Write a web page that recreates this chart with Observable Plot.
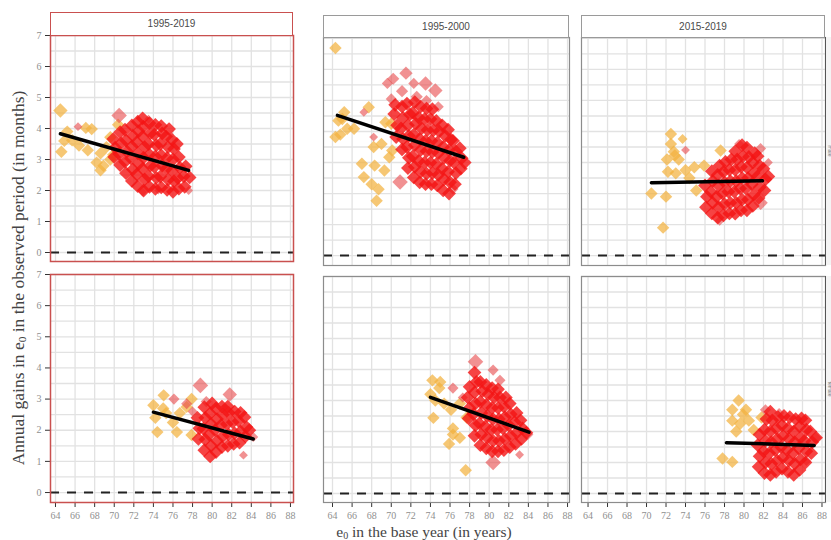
<!DOCTYPE html>
<html><head><meta charset="utf-8">
<script src="https://cdn.jsdelivr.net/npm/d3@7"></script>
<script src="https://cdn.jsdelivr.net/npm/@observablehq/plot@0.6"></script>
<style>
html,body{margin:0;padding:0;background:#fff;}
#wrap{position:relative;width:831px;height:540px;overflow:hidden;background:#fff;}
.pan{position:absolute;}
.pan svg{overflow:visible;display:block;}
.pan [aria-label^="x-axis"] text,.pan [aria-label^="y-axis"] text{fill:#8f8f8f;}
.strip{position:absolute;box-sizing:border-box;background:#fff;font-family:"Liberation Sans",Arial,sans-serif;font-size:10px;color:#4a4a4a;text-align:center;}
.rstrip{position:absolute;box-sizing:border-box;border-left:1.5px solid #555;background:#f4f4f4;width:6px;overflow:visible;}
.rstrip span{position:absolute;left:3px;top:50%;transform:translate(-50%,-50%) rotate(90deg);font-family:"Liberation Sans",Arial,sans-serif;font-size:5px;line-height:5px;color:#777;white-space:nowrap;}
.ytitle{position:absolute;left:18px;top:278px;transform:translate(-50%,-50%) rotate(-90deg);font-family:"Liberation Serif",serif;font-size:17.5px;color:#444;white-space:nowrap;}
.xtitle{position:absolute;left:424px;top:532px;transform:translate(-50%,-50%);font-family:"Liberation Serif",serif;font-size:15.5px;color:#444;white-space:nowrap;}
sub{font-size:0.65em;vertical-align:-0.25em;}
</style>
</head><body>
<div id="wrap"></div>
<script>
// ---- tick labels / grid positions ----
const xTicks = [64,66,68,70,72,74,76,78,80,82,84,86,88];
const yTicks = [0,1,2,3,4,5,6,7];
const yGrid = [0,0.5,1,1.5,2,2.5,3,3.5,4,4.5,5,5.5,6,6.5,7];
const stripTop = ["1995-2019","1995-2000","2015-2019"];
const stripRight = ["male","female"];

// ---- Panel A: top-left (1995-2019) ----
const aYellow = [[64.5,4.58,6.5],[64.6,3.25],[65.2,3.9],[64.9,3.6],[65.7,3.62],[67.1,4.02],[67.7,3.98],[67.3,3.3],[68.6,3.2],[68.6,2.65],[68.2,2.9],[69.6,3.0],[69.2,3.4],[69.9,3.15],[70.4,4.12],[69.6,3.72],[66.4,3.45],[68.9,2.8]];
const aRed = [[70.0,3.08],[70.1,3.38],[69.9,3.66],[70.6,2.82],[70.5,3.18],[70.7,3.52],[70.6,3.88],[71.2,2.56],[71.1,2.93],[71.3,3.26],[71.2,3.62],[71.1,3.96],[71.8,2.31],[71.9,2.68],[71.7,3.04],[71.8,3.42],[71.9,3.77],[71.8,4.1],[72.4,2.14],[72.3,2.52],[72.5,2.86],[72.4,3.2],[72.3,3.56],[72.5,3.91],[72.4,4.22],[73.0,2.0],[73.1,2.36],[72.9,2.7],[73.0,3.06],[73.1,3.4],[72.9,3.74],[73.0,4.06],[72.9,4.33],[73.6,2.12],[73.5,2.46],[73.7,2.8],[73.6,3.16],[73.5,3.5],[73.7,3.84],[73.6,4.17],[74.2,2.05],[74.3,2.41],[74.1,2.76],[74.2,3.1],[74.3,3.46],[74.1,3.8],[74.2,4.12],[74.8,2.1],[74.7,2.45],[74.9,2.8],[74.8,3.14],[74.7,3.5],[74.9,3.84],[74.8,4.08],[75.4,2.02],[75.5,2.35],[75.3,2.7],[75.4,3.05],[75.5,3.4],[75.3,3.74],[75.6,3.98],[76.0,1.96],[76.1,2.3],[75.9,2.64],[76.0,3.0],[76.1,3.34],[75.9,3.64],[76.6,2.06],[76.5,2.4],[76.7,2.74],[76.6,3.08],[76.4,3.5],[77.2,2.12],[77.1,2.46],[77.3,2.78],[77.7,2.42]];
const aPale = [[70.5,4.42,7],[66.3,4.06,4],[72.9,1.95,4],[74.5,2.0,3.5],[77.6,2.0,4],[73.5,4.3,4]];
const aLine = [[64.5,3.83],[77.6,2.65]];

// ---- Panel B: top-middle (1995-2000) ----
const bYellow = [[64.3,6.69],[65.2,4.62],[64.6,4.35],[64.3,3.82],[65.5,4.09],[66.2,4.09],[64.8,3.9],[67.7,4.78],[69.4,4.3],[70.0,4.25],[68.2,3.5],[69.0,3.6],[70.1,3.39],[69.8,3.17],[67.0,2.96],[68.3,2.9],[69.3,2.74],[67.2,2.53],[68.0,2.3],[68.7,2.14],[68.5,1.77],[65.0,4.4]];
const bRed = [[70.3,4.56],[70.5,3.82],[70.6,4.2],[70.4,4.86],[71.1,3.42],[71.2,3.76],[71.0,4.1],[71.2,4.44],[71.1,4.8],[71.7,2.82],[71.8,3.15],[71.6,3.5],[71.8,3.86],[71.7,4.2],[71.9,4.55],[71.6,4.9],[72.3,2.52],[72.4,2.86],[72.2,3.2],[72.4,3.56],[72.3,3.9],[72.5,4.25],[72.2,4.6],[72.4,4.95],[72.9,2.36],[73.0,2.7],[72.8,3.05],[73.0,3.4],[72.9,3.76],[73.1,4.1],[72.8,4.45],[73.0,4.8],[73.5,2.3],[73.6,2.64],[73.4,3.0],[73.6,3.36],[73.5,3.7],[73.7,4.05],[73.4,4.4],[73.6,4.74],[74.1,2.3],[74.2,2.66],[74.0,3.0],[74.2,3.34],[74.1,3.7],[74.3,4.04],[74.0,4.4],[74.2,4.72],[74.7,2.26],[74.8,2.6],[74.6,2.95],[74.8,3.3],[74.7,3.64],[74.9,4.0],[74.6,4.34],[75.3,2.1],[75.4,2.46],[75.2,2.8],[75.4,3.15],[75.3,3.5],[75.5,3.86],[75.2,4.2],[75.9,2.0],[76.0,2.36],[75.8,2.7],[76.0,3.06],[75.9,3.4],[76.1,3.74],[75.8,4.06],[76.5,2.3],[76.6,2.66],[76.4,3.0],[76.6,3.36],[76.3,3.7],[77.1,2.8],[77.2,3.14],[77.0,3.46],[77.5,3.0]];
const bPale = [[70.9,2.37,7],[67.2,4.62,4],[68.2,3.82,4],[71.5,5.88,6],[70.2,5.7,5.5],[69.6,5.55,5],[73.5,5.55,6.5],[74.5,5.32,6.5],[71.1,5.3,5.5],[72.6,5.12,5.5],[73.6,5.0,5],[70.0,5.05,5],[72.3,5.55,5],[74.8,4.8,5],[76.3,2.15,5]];
const bLine = [[64.5,4.52],[77.4,3.17]];

// ---- Panel C: top-right (2015-2019) ----
const cYellow = [[72.5,3.92],[73.7,3.76,4.5],[72.5,3.6],[72.9,3.23],[72.1,3.1],[72.2,2.7],[73.0,2.65],[74.0,2.75],[74.9,2.85],[75.1,2.1],[70.5,2.0],[72.0,1.9],[71.7,0.9],[77.6,3.39],[75.9,2.9],[73.3,3.1],[72.8,3.35],[74.4,2.5]];
const cRed = [[76.1,1.56],[76.2,1.9],[76.0,2.26],[76.7,1.36],[76.8,1.7],[76.6,2.06],[76.8,2.4],[76.7,2.72],[77.3,1.22],[77.4,1.56],[77.2,1.9],[77.4,2.26],[77.3,2.6],[77.5,2.9],[77.9,1.3],[78.0,1.66],[77.8,2.0],[78.0,2.36],[77.9,2.7],[78.1,3.02],[78.5,1.36],[78.6,1.7],[78.4,2.06],[78.6,2.4],[78.5,2.76],[78.7,3.1],[79.1,1.35],[79.2,1.7],[79.0,2.06],[79.2,2.4],[79.1,2.76],[79.3,3.1],[79.1,3.36],[79.7,1.46],[79.8,1.8],[79.6,2.16],[79.8,2.5],[79.7,2.86],[79.9,3.2],[79.8,3.56],[80.3,1.46],[80.4,1.8],[80.2,2.16],[80.4,2.5],[80.3,2.84],[80.5,3.18],[80.3,3.48],[80.9,1.6],[81.0,1.96],[80.8,2.3],[81.0,2.66],[80.9,3.0],[81.1,3.3],[81.5,1.86],[81.6,2.2],[81.4,2.56],[81.6,2.9],[81.4,3.2],[82.1,2.1],[82.2,2.46],[82.0,2.8],[82.5,2.55]];
const cPale = [[81.7,1.7,6.5],[81.7,3.45,5],[74.0,3.4,4],[77.5,1.12,4.5],[79.5,3.6,4.5],[82.5,3.0,4]];
const cLine = [[70.5,2.35],[81.9,2.41]];

// ---- Panel D: bottom-left (1995-2019) ----
const dYellow = [[75.05,3.12],[74.0,2.8],[74.2,2.4],[74.4,1.94],[76.4,1.94],[76.0,2.25],[76.7,2.55],[77.9,1.85],[75.3,2.55],[77.4,2.75],[77.9,3.0],[75.0,2.7]];
const dRed = [[78.6,1.72],[78.7,2.06],[78.5,2.4],[79.2,1.36],[79.3,1.7],[79.1,2.05],[79.3,2.4],[79.2,2.74],[79.8,1.16],[79.9,1.5],[79.7,1.86],[79.9,2.2],[79.8,2.54],[80.0,2.86],[80.4,1.3],[80.5,1.66],[80.3,2.0],[80.5,2.36],[80.4,2.7],[81.0,1.46],[81.1,1.8],[80.9,2.16],[81.1,2.5],[81.0,2.76],[81.6,1.5],[81.7,1.86],[81.5,2.2],[81.7,2.56],[81.6,2.76],[82.2,1.56],[82.3,1.9],[82.1,2.26],[82.3,2.6],[82.8,1.6],[82.9,1.96],[82.7,2.3],[82.9,2.56],[83.4,1.8],[83.5,2.1],[83.3,2.42],[83.8,2.0]];
const dPale = [[78.8,3.44,7],[81.8,3.15,6.5],[76.1,3.0,5],[77.4,2.85,5],[79.4,2.92,5],[83.2,1.2,4],[84.2,1.78,4.5],[78.0,2.6,4.5]];
const dLine = [[74.0,2.58],[84.2,1.72]];

// ---- Panel E: bottom-middle (1995-2000) ----
const eYellow = [[74.2,3.65],[74.9,3.4],[74.0,3.2],[74.5,3.0],[75.4,2.9],[74.3,2.44],[76.3,2.1],[77.0,1.8],[75.9,1.6],[76.3,1.9],[77.6,0.75],[77.0,2.9],[76.1,2.7],[77.7,2.45],[75.0,3.6]];
const eRed = [[77.9,2.42],[78.0,2.76],[77.8,3.1],[78.0,3.44],[78.5,1.86],[78.6,2.2],[78.4,2.56],[78.6,2.9],[78.5,3.26],[78.7,3.6],[78.5,3.9],[79.1,1.56],[79.2,1.9],[79.0,2.26],[79.2,2.6],[79.1,2.96],[79.3,3.3],[79.1,3.6],[79.7,1.46],[79.8,1.8],[79.6,2.16],[79.8,2.5],[79.7,2.86],[79.9,3.2],[79.7,3.5],[80.3,1.36],[80.4,1.7],[80.2,2.06],[80.4,2.4],[80.3,2.76],[80.5,3.1],[80.3,3.4],[80.9,1.36],[81.0,1.7],[80.8,2.06],[81.0,2.4],[80.9,2.76],[81.1,3.1],[80.9,3.36],[81.5,1.4],[81.6,1.76],[81.4,2.1],[81.6,2.46],[81.5,2.8],[81.7,3.1],[82.1,1.5],[82.2,1.86],[82.0,2.2],[82.2,2.56],[82.1,2.9],[82.7,1.6],[82.8,1.96],[82.6,2.3],[82.8,2.6],[83.3,1.76],[83.4,2.1],[83.2,2.36],[83.8,1.96]];
const ePale = [[78.6,4.25,7],[80.4,3.98,5],[81.1,3.65,5],[80.4,1.0,7],[83.1,1.25,4],[84.0,1.9,4.5],[76.3,3.4,5],[77.3,3.1,4.5]];
const eLine = [[74.0,3.1],[84.06,1.98]];

// ---- Panel F: bottom-right (2015-2019) ----
const fYellow = [[79.45,3.0],[78.8,2.7],[80.2,2.7],[78.8,2.35],[79.6,2.25],[80.5,2.35],[79.2,2.0],[81.0,2.05],[77.8,1.13],[78.8,1.02],[81.8,2.45],[79.9,2.55]];
const fRed = [[81.5,0.86],[81.6,1.2],[81.4,1.56],[81.6,1.9],[82.1,0.66],[82.2,1.0],[82.0,1.36],[82.2,1.7],[82.1,2.06],[82.3,2.4],[82.7,0.6],[82.8,0.96],[82.6,1.3],[82.8,1.66],[82.7,2.0],[82.9,2.36],[82.7,2.64],[83.3,0.7],[83.4,1.06],[83.2,1.4],[83.4,1.76],[83.3,2.1],[83.5,2.46],[83.9,0.8],[84.0,1.16],[83.8,1.5],[84.0,1.86],[83.9,2.2],[84.1,2.5],[84.5,0.7],[84.6,1.06],[84.4,1.4],[84.6,1.76],[84.5,2.1],[84.7,2.46],[85.1,0.6],[85.2,0.96],[85.0,1.3],[85.2,1.66],[85.1,2.0],[85.3,2.4],[85.7,0.76],[85.8,1.1],[85.6,1.46],[85.8,1.8],[85.7,2.16],[85.9,2.42],[86.3,1.0],[86.4,1.36],[86.2,1.7],[86.4,2.06],[86.3,2.36],[86.9,1.3],[87.0,1.66],[86.8,2.0],[87.4,1.8]];
const fPale = [[82.2,2.7,5],[87.4,1.8,5],[86.4,1.05,4.5],[83.6,2.6,4.5]];
const fLine = [[78.2,1.64],[87.2,1.55]];

const wrap = document.getElementById("wrap");
const RED_FRAME = "#c9504f", GRAY_FRAME = "#8c8c8c";

function panel(cfg) {
  const ml = cfg.showY ? 50 : 1, mt = 1, mr = 1, mb = cfg.showX ? 30 : 1;
  const p = Plot.plot({
    width: cfg.w + ml + mr, height: cfg.h + mt + mb,
    marginLeft: ml, marginTop: mt, marginRight: mr, marginBottom: mb,
    x: {domain: cfg.xd, ticks: xTicks, tickSize: 5, tickPadding: 4, label: null, axis: cfg.showX ? "bottom" : null, tickFormat: d => String(d)},
    y: {domain: cfg.yd, ticks: yTicks, tickSize: 5, tickPadding: 4, label: null, axis: cfg.showY ? "left" : null, tickFormat: d => String(d)},
    r: {type: "identity"},
    style: {fontFamily: "'Liberation Serif', serif", fontSize: "10px", color: "#333", background: "transparent", overflow: "visible"},
    marks: [
      Plot.ruleY(yGrid, {stroke: "#e2e2e2", strokeWidth: 1.3}),
      Plot.ruleX(xTicks, {stroke: "#e2e2e2", strokeWidth: 1.3}),
      Plot.ruleY([0], {stroke: "#222", strokeWidth: 2, strokeDasharray: "9,8"}),
      Plot.dot(cfg.yellow, {x: d => d[0], y: d => d[1], r: d => d[2] ?? 5.6, symbol: "diamond2", fill: "#f2b23e", fillOpacity: 0.72}),
      Plot.dot(cfg.pale, {x: d => d[0], y: d => d[1], r: d => d[2], symbol: "diamond2", fill: "#e8484a", fillOpacity: 0.6}),
      Plot.dot(cfg.red, {x: d => d[0], y: d => d[1], r: 6.2, symbol: "diamond2", fill: "#f41414", fillOpacity: 0.8}),
      Plot.line(cfg.line, {x: d => d[0], y: d => d[1], stroke: "#000", strokeWidth: 3.5}),
      Plot.frame({stroke: cfg.frame, strokeWidth: cfg.frame === RED_FRAME ? 1.5 : 1.2})
    ]
  });
  const div = document.createElement("div");
  div.className = "pan";
  div.style.left = (cfg.l - ml) + "px";
  div.style.top = (cfg.t - mt) + "px";
  div.appendChild(p);
  wrap.appendChild(div);
}

function strip(l, t, w, h, text, border) {
  const s = document.createElement("div");
  s.className = "strip";
  Object.assign(s.style, {left: l + "px", top: t + "px", width: w + "px", height: h + "px", lineHeight: (h - 2) + "px", border: border});
  s.textContent = text;
  wrap.appendChild(s);
}
function rstrip(l, t, h, text) {
  const s = document.createElement("div");
  s.className = "rstrip";
  Object.assign(s.style, {left: l + "px", top: t + "px", height: h + "px"});
  const sp = document.createElement("span");
  sp.textContent = text;
  s.appendChild(sp);
  wrap.appendChild(s);
}

const xdL = [63.49, 88.31], xdM = [63.08, 88.2], xdR = [63.33, 88.36];
panel({l: 50, t: 35, w: 243, h: 226, xd: xdL, yd: [-0.29, 7], showX: false, showY: true, yellow: aYellow, red: aRed, pale: aPale, line: aLine, frame: RED_FRAME});
panel({l: 323, t: 37, w: 246, h: 228, xd: xdM, yd: [-0.32, 7.03], showX: false, showY: false, yellow: bYellow, red: bRed, pale: bPale, line: bLine, frame: GRAY_FRAME});
panel({l: 581, t: 37, w: 244, h: 228, xd: xdR, yd: [-0.32, 7.03], showX: false, showY: false, yellow: cYellow, red: cRed, pale: cPale, line: cLine, frame: GRAY_FRAME});
panel({l: 50, t: 274, w: 243, h: 228, xd: xdL, yd: [-0.32, 7], showX: true, showY: true, yellow: dYellow, red: dRed, pale: dPale, line: dLine, frame: RED_FRAME});
panel({l: 323, t: 276, w: 246, h: 226, xd: xdM, yd: [-0.29, 7], showX: true, showY: false, yellow: eYellow, red: eRed, pale: ePale, line: eLine, frame: GRAY_FRAME});
panel({l: 581, t: 276, w: 244, h: 226, xd: xdR, yd: [-0.29, 7], showX: true, showY: false, yellow: fYellow, red: fRed, pale: fPale, line: fLine, frame: GRAY_FRAME});

strip(50, 12, 243, 24, stripTop[0], "1.5px solid " + RED_FRAME);
strip(323, 15, 246, 23, stripTop[1], "1px solid #9a9a9a");
strip(581, 15, 244, 23, stripTop[2], "1px solid #9a9a9a");
rstrip(825, 37, 228, stripRight[0]);
rstrip(825, 276, 226, stripRight[1]);

const yt = document.createElement("div");
yt.className = "ytitle";
yt.innerHTML = "Annual gains in e<sub>0</sub> in the observed period (in months)";
wrap.appendChild(yt);
const xt = document.createElement("div");
xt.className = "xtitle";
xt.innerHTML = "e<sub>0</sub> in the base year (in years)";
wrap.appendChild(xt);
</script>
</body></html>
